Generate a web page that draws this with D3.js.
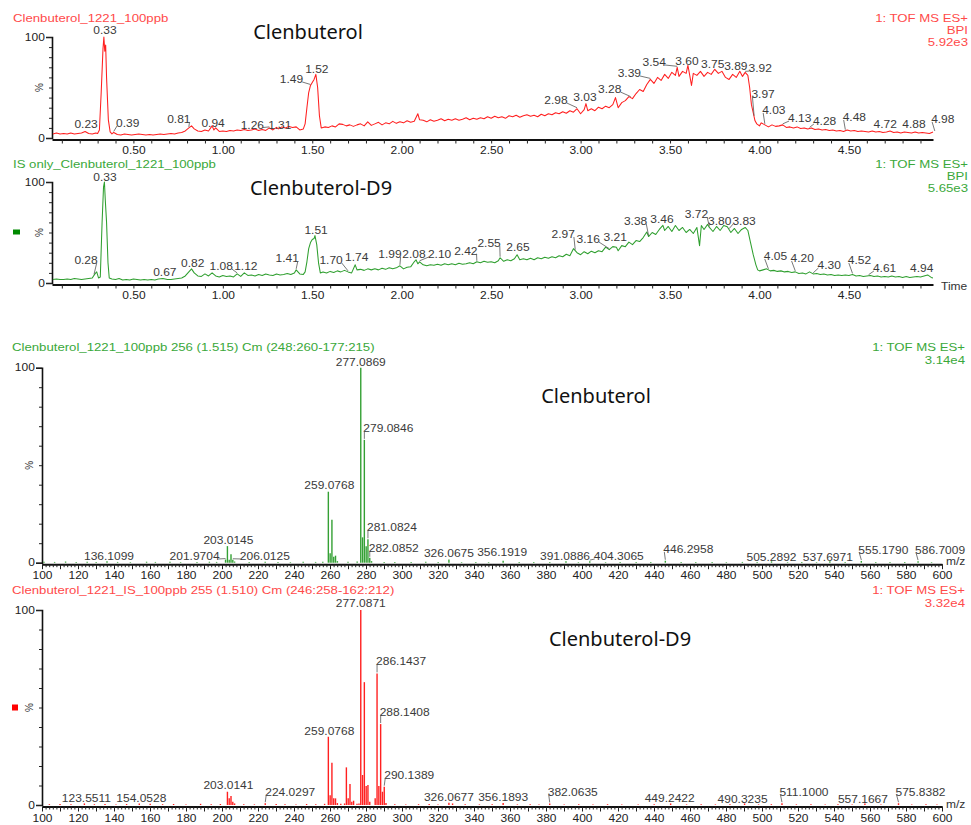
<!DOCTYPE html>
<html><head><meta charset="utf-8">
<script src="https://cdn.jsdelivr.net/npm/d3@7"></script>
<style>body{margin:0;background:#fff}svg{display:block}</style>
</head><body>
<script>
// ---------------- DATA ----------------
// Chromatogram 1 (Clenbuterol, BPI) : [retention time (min), relative %]
const clenTrace = [[0.05,4],[0.07,5],[0.09,4],[0.11,4.5],[0.13,4],[0.15,5],[0.17,4],[0.19,4.5],[0.21,5],[0.23,6.5],[0.25,4.5],[0.27,4],[0.29,5],[0.30,4.5],[0.31,8],[0.32,45],[0.33,88],[0.335,100],[0.34,86],[0.345,92],[0.35,60],[0.36,18],[0.37,6],[0.38,4],[0.39,5.5],[0.41,3.5],[0.43,3],[0.45,4],[0.47,3.5],[0.49,3],[0.51,3.5],[0.53,4],[0.55,3.5],[0.57,3],[0.59,3.5],[0.61,3],[0.63,3.5],[0.65,4],[0.67,3.5],[0.69,4],[0.71,4.5],[0.73,4],[0.75,5],[0.77,5.5],[0.79,7],[0.81,10],[0.825,12],[0.84,9],[0.86,7],[0.88,6.5],[0.90,8],[0.92,7],[0.94,12],[0.95,8],[0.96,10],[0.98,6.5],[1.00,7],[1.02,6.5],[1.04,7.5],[1.06,7],[1.08,8],[1.10,7.5],[1.12,8.5],[1.14,7.5],[1.16,8],[1.18,9],[1.20,7.5],[1.22,8.5],[1.24,7.5],[1.26,10],[1.28,8],[1.30,10.5],[1.31,9],[1.33,11],[1.35,10],[1.37,11.5],[1.39,10.5],[1.41,11],[1.43,8],[1.45,9],[1.46,14],[1.47,30],[1.48,45],[1.49,52],[1.50,55],[1.51,58],[1.52,63],[1.53,50],[1.54,22],[1.55,10],[1.57,11],[1.59,10.5],[1.61,12],[1.63,11],[1.65,14],[1.67,13.5],[1.69,12],[1.71,13],[1.73,11.5],[1.75,13],[1.77,14],[1.79,12],[1.81,16],[1.83,12.5],[1.85,14],[1.87,15.5],[1.89,13],[1.91,15],[1.93,14],[1.95,16.5],[1.97,14.5],[1.99,16],[2.01,15],[2.03,17],[2.05,15.5],[2.07,16.5],[2.09,24],[2.10,18],[2.12,17.5],[2.14,16],[2.16,18],[2.18,16.5],[2.20,17.5],[2.22,19],[2.24,17],[2.26,18.5],[2.28,17.5],[2.30,19],[2.32,17.5],[2.34,18.5],[2.36,20],[2.38,18],[2.40,19.5],[2.42,18.5],[2.44,20],[2.46,19],[2.48,21],[2.50,19.5],[2.52,21.5],[2.54,20],[2.56,21],[2.58,19.5],[2.60,22],[2.62,21],[2.64,22.5],[2.66,20.5],[2.68,22],[2.70,23],[2.72,21.5],[2.74,22.5],[2.76,21],[2.78,23.5],[2.80,22],[2.82,24],[2.84,23],[2.86,25],[2.88,24],[2.90,26],[2.92,24.5],[2.94,27],[2.96,25.5],[2.98,29],[3.00,24],[3.02,28],[3.03,34],[3.04,27],[3.06,29],[3.08,27],[3.10,30.5],[3.12,29],[3.14,31.5],[3.16,30],[3.18,33],[3.195,40],[3.21,30],[3.23,35],[3.25,37],[3.27,41],[3.29,39],[3.31,44],[3.33,48],[3.35,46],[3.37,53],[3.39,58],[3.41,54],[3.43,60],[3.45,57],[3.47,63],[3.49,59],[3.51,65],[3.53,62],[3.54,70],[3.55,61],[3.57,66],[3.59,64],[3.60,72],[3.61,62],[3.62,52],[3.63,64],[3.65,62],[3.67,66],[3.69,61],[3.71,65],[3.73,63],[3.75,68],[3.77,64],[3.79,66],[3.81,60],[3.83,58],[3.85,63],[3.87,60],[3.89,66],[3.905,61],[3.92,65],[3.935,62],[3.945,50],[3.955,33],[3.965,25],[3.975,17],[3.985,14],[4.00,12],[4.01,15],[4.03,13],[4.05,11],[4.07,13],[4.09,11.5],[4.11,12],[4.13,13],[4.15,10.5],[4.17,11],[4.19,10],[4.21,11],[4.23,9.5],[4.25,10],[4.27,9],[4.29,10],[4.31,8.5],[4.33,9],[4.35,8],[4.37,8.5],[4.39,7.5],[4.41,8],[4.43,7],[4.45,7.5],[4.47,6.5],[4.49,8],[4.51,7],[4.53,7.5],[4.55,6.5],[4.57,7],[4.59,6.5],[4.61,6],[4.63,7],[4.65,6],[4.67,6.5],[4.69,5.5],[4.71,6],[4.73,7],[4.75,5.5],[4.77,6],[4.79,5],[4.81,6],[4.83,5.5],[4.85,5],[4.87,6],[4.89,5],[4.91,5.5],[4.93,5],[4.95,4.5],[4.97,6]];
// Chromatogram 2 (IS only, Clenbuterol-D9)
const isTrace = [[0.05,3.5],[0.07,4],[0.09,3.5],[0.11,3.5],[0.13,4],[0.15,3.5],[0.17,4.5],[0.19,4],[0.21,3.5],[0.23,4],[0.25,4.5],[0.27,5],[0.285,9],[0.295,11],[0.305,5],[0.315,6],[0.325,60],[0.333,95],[0.338,100],[0.343,82],[0.35,60],[0.358,20],[0.365,5],[0.38,4],[0.40,3.5],[0.42,4.5],[0.44,3],[0.46,3.5],[0.48,3],[0.50,4],[0.52,3.5],[0.54,3],[0.56,3.5],[0.58,3],[0.60,3.5],[0.62,3],[0.64,4],[0.665,4.5],[0.69,3.5],[0.71,3.5],[0.73,4],[0.75,4.5],[0.77,5],[0.79,7],[0.81,11],[0.825,14],[0.84,10],[0.86,7],[0.88,6.5],[0.90,9],[0.92,7],[0.94,10],[0.96,7],[0.98,6],[1.00,7.5],[1.02,6.5],[1.04,7],[1.06,6],[1.08,9],[1.10,6.5],[1.12,10],[1.14,7.5],[1.16,8],[1.18,7],[1.20,8.5],[1.22,7.5],[1.24,9],[1.26,8],[1.28,7.5],[1.30,9],[1.32,8],[1.34,8.5],[1.36,9.5],[1.38,8.5],[1.40,10],[1.41,13],[1.43,9],[1.45,8.5],[1.46,11],[1.47,21],[1.48,34],[1.49,40],[1.50,43],[1.51,44],[1.515,47],[1.525,38],[1.535,20],[1.545,10],[1.56,11],[1.58,10],[1.60,11.5],[1.62,10.5],[1.64,12],[1.66,11],[1.68,12.5],[1.70,11],[1.72,10],[1.74,18],[1.75,13],[1.77,13.5],[1.79,12.5],[1.81,14],[1.83,13],[1.85,14],[1.87,13],[1.89,14.5],[1.91,13.5],[1.93,15],[1.95,14],[1.97,15],[1.99,17],[2.01,14],[2.03,15.5],[2.05,16],[2.07,21],[2.08,23],[2.09,19],[2.10,21],[2.12,18],[2.14,17],[2.16,18],[2.18,17.5],[2.20,18.5],[2.22,17.5],[2.24,19],[2.26,18],[2.28,19],[2.30,18],[2.32,19.5],[2.34,18.5],[2.36,19],[2.38,20],[2.40,19],[2.42,21],[2.44,20],[2.46,21.5],[2.48,20.5],[2.50,21],[2.52,20],[2.54,22],[2.55,25],[2.57,21.5],[2.59,23],[2.61,22],[2.63,24],[2.645,28],[2.66,23],[2.68,24],[2.70,23],[2.72,24.5],[2.74,23],[2.76,25],[2.78,24],[2.80,25.5],[2.82,24.5],[2.84,26],[2.86,25],[2.88,27],[2.90,26],[2.92,28.5],[2.94,27],[2.96,34],[2.98,30],[3.00,28],[3.02,31],[3.04,29],[3.06,31.5],[3.08,30],[3.10,32],[3.12,31],[3.14,35.5],[3.16,33],[3.18,36],[3.20,35.5],[3.21,32],[3.23,37],[3.25,36],[3.27,40.5],[3.29,38],[3.31,42],[3.33,41],[3.35,45],[3.37,50.5],[3.38,46],[3.40,50],[3.42,48],[3.44,53],[3.46,57],[3.47,52],[3.49,56],[3.51,51],[3.53,57],[3.55,52],[3.57,55],[3.59,50],[3.61,53],[3.63,49],[3.65,55],[3.665,37],[3.675,57],[3.69,53],[3.71,58],[3.72,55],[3.74,51],[3.76,56],[3.78,52],[3.80,57],[3.82,55.6],[3.84,50],[3.86,54],[3.88,49],[3.90,53],[3.92,55],[3.935,52],[3.95,40],[3.965,28],[3.98,18],[3.99,13],[4.00,12],[4.02,13],[4.04,14],[4.06,12],[4.08,12.5],[4.10,11.5],[4.12,12],[4.14,11],[4.16,11.5],[4.18,10.5],[4.20,11],[4.22,9.5],[4.24,10],[4.26,9],[4.28,11],[4.30,9],[4.32,9.5],[4.34,8.5],[4.36,9],[4.38,8],[4.40,8.5],[4.42,7.5],[4.44,8],[4.46,7.5],[4.48,8],[4.50,7.5],[4.52,8.5],[4.54,7],[4.56,7.5],[4.58,6.5],[4.60,7],[4.62,7.5],[4.64,6.5],[4.66,7],[4.68,6],[4.70,6.5],[4.72,6],[4.74,7],[4.76,6],[4.78,6.5],[4.80,5.5],[4.82,6.5],[4.84,5.5],[4.86,6],[4.88,6.5],[4.90,6],[4.92,7],[4.94,8],[4.96,5.5],[4.97,5]];

const clenPeakLabels = ["0.23","0.33","0.39","0.81","0.94","1.26","1.31","1.49","1.52","2.98","3.03","3.28","3.39","3.54","3.60","3.75","3.89","3.92","3.97","4.03","4.13","4.28","4.48","4.72","4.88","4.98"];
const isPeakLabels = ["0.28","0.33","0.67","0.82","1.08","1.12","1.41","1.51","1.70","1.74","1.99","2.08","2.10","2.42","2.55","2.65","2.97","3.16","3.21","3.38","3.46","3.72","3.80","3.83","4.05","4.20","4.30","4.52","4.61","4.94"];

// Mass spectrum 1 (Clenbuterol, scan 256) : m/z and relative %
const clenMz = [101.1,107.0,113.1,119.0,125.1,130.1,136.11,142.0,149.1,158.1,163.0,171.1,177.0,186.1,193.0,197.0,201.97,203.01,204.0,205.0,206.01,207.0,215.1,224.0,231.1,238.0,245.1,252.0,256.0,259.08,260.08,261.07,262.08,263.07,264.1,270.0,275.1,277.09,278.09,279.08,280.09,281.08,282.09,283.08,290.1,296.0,305.1,313.2,320.1,326.07,333.1,341.0,348.1,356.19,365.1,373.2,382.1,391.09,398.0,404.31,413.1,421.2,430.1,438.2,446.30,455.1,463.2,472.3,480.2,489.1,497.3,505.29,514.2,522.1,530.3,537.70,546.2,555.18,563.2,571.1,579.3,586.70,594.2];
const clenInt = [0.5,0.4,0.6,0.3,0.5,0.4,0.8,0.4,0.3,0.5,0.4,0.5,0.3,0.4,0.5,0.4,1.6,8.5,1.5,4.3,1.5,0.6,0.4,0.5,0.4,0.3,0.5,0.4,0.5,36.4,4.8,22,3,3.6,0.8,0.5,0.6,100,13,63,8.5,12,2.5,0.8,0.4,0.3,0.4,0.5,0.4,1.7,0.3,0.4,0.3,1.0,0.3,0.4,0.3,0.7,0.3,0.8,0.3,0.4,0.3,0.3,1.0,0.3,0.4,0.3,0.3,0.4,0.3,0.7,0.3,0.4,0.3,0.7,0.3,0.9,0.3,0.4,0.3,0.8,0.3];
const clenMzLabels = ["277.0869","279.0846","259.0768","281.0824","282.0852","203.0145","201.9704","206.0125","136.1099","326.0675","356.1919","391.0886","404.3065","446.2958","505.2892","537.6971","555.1790","586.7009"];

// Mass spectrum 2 (Clenbuterol IS, scan 255)
const isMz = [104.1,110.0,116.1,123.55,129.1,135.0,141.1,147.0,154.05,160.1,167.0,173.1,180.0,188.1,194.0,199.1,203.01,204.0,205.0,206.0,207.0,212.1,218.0,224.03,230.1,235.0,241.1,247.0,252.1,257.0,259.08,260.08,261.07,262.08,263.07,264.1,266.0,268.1,269.1,270.1,271.1,272.1,273.1,275.0,276.1,277.09,278.09,279.08,280.09,281.08,282.09,285.1,286.14,287.14,288.14,289.14,290.14,291.1,296.0,302.1,309.2,315.1,320.0,326.07,328.1,335.1,343.0,350.1,356.19,364.1,371.2,376.1,382.06,390.1,398.2,406.1,414.2,422.1,431.2,440.1,449.24,458.1,466.2,474.1,482.2,490.32,498.1,505.2,511.10,519.1,527.2,535.1,542.2,550.1,557.17,566.1,575.84,583.2,591.1,597.2];
const isInt = [0.4,0.5,0.4,0.8,0.4,0.5,0.3,0.5,0.8,0.6,0.4,0.5,0.3,0.6,0.4,0.5,6.8,3.4,4.6,1.7,0.8,0.4,0.3,0.9,0.5,0.4,0.3,0.5,0.4,0.6,35,5,21.7,3.4,3.4,1.0,0.6,0.8,19.3,3.4,10.8,1.7,2.2,0.6,0.8,100,15.4,63,9.7,10.3,1.7,3.4,67.5,9.7,41.5,6.8,9.4,1.0,0.4,0.3,0.4,0.5,0.3,1.2,0.8,0.4,0.3,0.4,1.0,0.3,0.4,0.3,0.8,0.3,0.4,0.3,0.4,0.3,0.3,0.4,0.8,0.3,0.4,0.3,0.4,0.8,0.3,0.4,0.9,0.3,0.4,0.3,0.4,0.3,0.8,0.3,0.9,0.3,0.4,0.3];
const isMzLabels = ["277.0871","286.1437","288.1408","259.0768","290.1389","203.0141","224.0297","123.5511","154.0528","326.0677","356.1893","382.0635","449.2422","490.3235","511.1000","557.1667","575.8382"];

const timeTicks = [0.5,1.0,1.5,2.0,2.5,3.0,3.5,4.0,4.5];
const mzTicks = [100,120,140,160,180,200,220,240,260,280,300,320,340,360,380,400,420,440,460,480,500,520,540,560,580,600];

// ---------------- LAYOUT (label offsets: dx px, baseline level %, leader) ----------------
const clenLabelLayout = [[1,9.9,0],[2,103,0],[14,10.9,1],[-10,14.9,1],[1,10.9,0],[-17,9.4,1],[1.5,9.4,0],[-19,54.5,1],[1,64.4,0],[-21,33.7,1],[-1,36.9,0],[-21,44.6,1],[-21,60.4,1],[-23,71.3,1],[-1,72.3,0],[-2,69.3,0],[-4,67.3,0],[15,65.3,1],[9,39.6,1],[9,23.8,1],[17,15.8,1],[15,12.9,1],[9,16.8,1],[-3,9.9,0],[-3,9.9,0],[8,14.9,1]];
const isLabelLayout = [[-8,18.8,1],[2,101.3,0],[1,6.9,0],[2,16.1,0],[-16,12.9,1],[1.5,12.9,0],[-9,20.8,1],[2,48.5,0],[-17,18.8,1],[1.5,21.8,0],[-10,24.8,1],[-2,24.8,0],[20,24.8,1],[-11,28,1],[-11,35.6,1],[0,32,0],[-12,44.6,1],[-21,39.6,1],[-3,41.6,0],[-13,57.7,1],[-1,59.4,0],[-13,64.4,1],[-4,57.7,0],[15,57.7,1],[7,22.8,1],[7,20.8,1],[16,13.9,1],[7,18.8,1],[16,10.9,1],[-6,10.9,0]];
const clenMzLayout = [[0,101,0],[24,67.2,1],[1,37.8,0],[24,16.4,1],[24,5.5,1],[1,9.6,0],[-31,1.4,1],[32,1.4,1],[2,1.4,0],[0,3.1,0],[-1,3.4,0],[-1,1.4,0],[29,1.4,1],[23,5,1],[0,1,0],[-2,1,0],[22,4.5,1],[22,4.5,1]];
const isMzLayout = [[0,101.5,0],[24,71.8,1],[24,45.8,1],[1,36,0],[25,13.3,1],[1,8.2,0],[25,4.8,1],[2,1.5,0],[2,1.5,0],[0,2.2,0],[0,2,0],[23,4.8,1],[-1,1.5,0],[-2,1,0],[22,4.8,1],[-2,1,0],[22,4.8,1]];

// ---------------- DRAWING ----------------
const FONT = "'Liberation Sans', Arial, sans-serif";
const SX = 1.2;
const svg = d3.select("body").append("svg").attr("width",971).attr("height",825);

function T(g, x, y, s, o = {}) {
  const sx = o.sx ?? SX;
  return g.append("text")
    .attr("transform", `translate(${x},${y}) scale(${sx},1)`)
    .attr("font-family", o.family || FONT)
    .attr("font-size", o.size || 10)
    .attr("fill", o.fill || "#333")
    .attr("text-anchor", o.anchor || "start")
    .text(s);
}

function valueAt(trace, t) {
  let i = d3.bisector(d => d[0]).left(trace, t);
  if (i <= 0) return trace[0][1];
  if (i >= trace.length) return trace[trace.length-1][1];
  const a = trace[i-1], b = trace[i];
  return a[1] + (b[1]-a[1]) * (t - a[0]) / (b[0]-a[0]);
}

function yAxis(g, y, x0, padd) {
  const ax = d3.axisLeft(y).tickValues(d3.range(0,101,10))
    .tickFormat(d => (d === 0 || d === 100) ? d : "").tickSize(6).tickPadding(padd);
  const ag = g.append("g").attr("transform", `translate(${x0},0)`).call(ax)
    .attr("color", "#222").attr("font-family", FONT).attr("font-size", 10);
  ag.select(".domain").attr("stroke", "#111").attr("stroke-width", 1.6);
  ag.selectAll(".tick line").attr("x2", d => (d % 100 === 0) ? -6 : -3);
  ag.selectAll(".tick text").attr("transform", `scale(${SX},1)`);
}

function labels(g, texts, layout, xs, ys, valFn) {
  texts.forEach((s, i) => {
    const [dx, lvl, lead] = layout[i];
    const v = +s;
    const px = xs(v), cx = px + dx, by = ys(lvl);
    const t = T(g, cx, by, s, {anchor: "middle", fill: "#3a3a3a", size: 10});
    if (lead) {
      const w = t.node().getComputedTextLength() * SX;
      const py = ys(valFn(v)) - 1;
      const ex = dx > 0 ? cx - w/2 + 1 : cx + w/2 - 1;
      g.append("line").attr("x1", px).attr("y1", py).attr("x2", ex).attr("y2", by - 1)
        .attr("stroke", "#555").attr("stroke-width", 0.8);
    }
  });
}

// ---- chromatograms ----
const xC = d3.scaleLinear().domain([0.045, 4.97]).range([52, 933]);

function drawChrom(c) {
  const y = d3.scaleLinear().domain([0, 100]).range([c.y0, c.y0 - 101]);
  const g = svg.append("g");
  const ax = d3.axisBottom(xC).tickValues(d3.range(1, 50).map(i => i / 10)).tickSize(4).tickSizeOuter(0)
    .tickFormat(d => timeTicks.some(v => Math.abs(v - d) < 1e-6) ? d3.format(".2f")(d) : "");
  const ag = g.append("g").attr("transform", `translate(0,${c.y0 + 1.5})`).call(ax)
    .attr("color", "#222").attr("font-family", FONT).attr("font-size", 10);
  ag.select(".domain").attr("stroke", "#111").attr("stroke-width", 2);
  ag.selectAll(".tick text").attr("transform", `scale(${SX},1)`);
  yAxis(g, y, 52, 0);
  g.append("path").datum(c.trace)
    .attr("d", d3.line().x(d => xC(d[0])).y(d => y(d[1])))
    .attr("fill", "none").attr("stroke", c.color).attr("stroke-width", 1.05).attr("stroke-linejoin", "round");
  labels(g, c.labels, c.layout, xC, y, t => valueAt(c.trace, t));
  T(g, 13, c.titleY, c.title, {size: 11, fill: c.textColor});
  T(g, 968, c.titleY, "1: TOF MS ES+", {size: 11, fill: c.textColor, anchor: "end"});
  T(g, 968, c.titleY + 12, "BPI", {size: 11, fill: c.textColor, anchor: "end"});
  T(g, 968, c.titleY + 23.5, c.scale, {size: 11, fill: c.textColor, anchor: "end"});
  g.append("text").attr("transform", `translate(43,${y(50)}) rotate(-90)`).attr("text-anchor", "middle")
    .attr("font-family", FONT).attr("font-size", 10).attr("fill", "#333").text("%");
  T(g, c.bigX, c.bigY, c.big, {size: 20, fill: "#111", sx: 1, anchor: "middle", family: "'Noto Sans', 'Open Sans', sans-serif"});
  return {g, y};
}

const p1 = drawChrom({trace: clenTrace, labels: clenPeakLabels, layout: clenLabelLayout, y0: 138, color: "#ff1f1f",
  textColor: "#ff4a4a", title: "Clenbuterol_1221_100ppb", titleY: 22, scale: "5.92e3", big: "Clenbuterol", bigX: 308, bigY: 39});
const p2 = drawChrom({trace: isTrace, labels: isPeakLabels, layout: isLabelLayout, y0: 283, color: "#2f9f2f",
  textColor: "#3aa83a", title: "IS only_Clenbuterol_1221_100ppb", titleY: 168, scale: "5.65e3", big: "Clenbuterol-D9", bigX: 321, bigY: 195});
T(p2.g, 941, 289.5, "Time", {size: 10, fill: "#333"});
p2.g.append("rect").attr("x", 13).attr("y", p2.y(50) - 3).attr("width", 7).attr("height", 5).attr("fill", "#008a00");

// ---- spectra ----
const xS = d3.scaleLinear().domain([100, 600]).range([42, 942]);

function drawSpec(c) {
  const y = d3.scaleLinear().domain([0, 100]).range([c.y0, c.y0 - 195]);
  const g = svg.append("g");
  const ax = d3.axisBottom(xS).tickValues(d3.range(100, 601, 2)).tickSize(3).tickSizeOuter(0).tickPadding(5)
    .tickFormat(d => mzTicks.includes(d) ? d : "");
  const ag = g.append("g").attr("transform", `translate(0,${c.y0 + 1.5})`).call(ax)
    .attr("color", "#222").attr("font-family", FONT).attr("font-size", 10);
  ag.select(".domain").attr("stroke", "#111").attr("stroke-width", 2);
  ag.selectAll(".tick line").attr("y2", d => d % 10 === 0 ? 5 : 3);
  ag.selectAll(".tick text").attr("transform", `scale(${SX},1)`).attr("y", 8);
  yAxis(g, y, 42, 0);
  const bars = c.mz.map((m, i) => [m, c.int[i]]);
  g.selectAll("line.bar").data(bars).enter().append("line").attr("class", "bar")
    .attr("x1", d => xS(d[0])).attr("x2", d => xS(d[0]))
    .attr("y1", y(0)).attr("y2", d => y(d[1]))
    .attr("stroke", c.color).attr("stroke-width", 1.4);
  const near = m => bars.reduce((a, b) => Math.abs(b[0] - m) < Math.abs(a[0] - m) ? b : a)[1];
  labels(g, c.labels, c.layout, xS, y, near);
  T(g, 12, c.titleY, c.title, {size: 11, fill: c.textColor});
  T(g, 965, c.titleY, "1: TOF MS ES+", {size: 11, fill: c.textColor, anchor: "end"});
  T(g, 965, c.titleY + 12.5, c.scale, {size: 11, fill: c.textColor, anchor: "end"});
  T(g, 946, c.y0 + 2.5, "m/z", {size: 10, fill: "#333"});
  g.append("text").attr("transform", `translate(33,${y(50)}) rotate(-90)`).attr("text-anchor", "middle")
    .attr("font-family", FONT).attr("font-size", 10).attr("fill", "#333").text("%");
  T(g, c.bigX, c.bigY, c.big, {size: 20, fill: "#111", sx: 1, anchor: "middle", family: "'Noto Sans', 'Open Sans', sans-serif"});
  return {g, y};
}

const p3 = drawSpec({mz: clenMz, int: clenInt, labels: clenMzLabels, layout: clenMzLayout, y0: 562.7, color: "#34a034",
  textColor: "#3aa83a", title: "Clenbuterol_1221_100ppb 256 (1.515) Cm (248:260-177:215)", titleY: 351, scale: "3.14e4",
  big: "Clenbuterol", bigX: 596, bigY: 402.5});
const p4 = drawSpec({mz: isMz, int: isInt, labels: isMzLabels, layout: isMzLayout, y0: 805, color: "#ff2020",
  textColor: "#ff4a4a", title: "Clenbuterol_1221_IS_100ppb 255 (1.510) Cm (246:258-162:212)", titleY: 594, scale: "3.32e4",
  big: "Clenbuterol-D9", bigX: 620, bigY: 646});
p4.g.append("rect").attr("x", 12).attr("y", p4.y(50) - 3).attr("width", 6).attr("height", 6).attr("fill", "#ff0000");
</script>
</body></html>
